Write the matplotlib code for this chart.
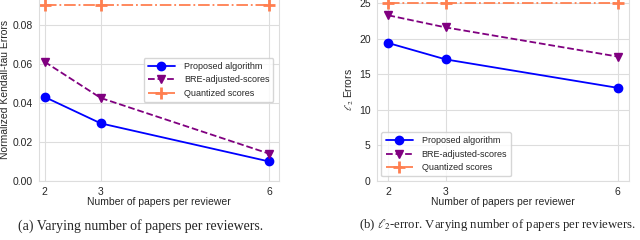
import matplotlib.pyplot as plt
import seaborn as sns

sns.set_style("whitegrid")
plt.rcParams['font.family'] = ['Liberation Sans', 'DejaVu Sans']
plt.rcParams['mathtext.fontset'] = 'stix'

papers = [2, 3, 6]
kt_proposed = [0.043, 0.0295, 0.010]
kt_bre = [0.061, 0.0425, 0.014]
kt_quant = [0.09, 0.09, 0.09]
l2_proposed = [19.4, 17.1, 13.1]
l2_bre = [23.3, 21.6, 17.5]
l2_quant = [25.0, 25.0, 25.0]

fig = plt.figure(figsize=(6.4, 2.4), dpi=100)
ax1 = fig.add_axes([0.061, 0.246, 0.375, 0.76])
ax2 = fig.add_axes([0.589, 0.246, 0.394, 0.76])

def draw(ax, prop, bre, quant, bre_label):
    ax.plot(papers, prop, color='blue', marker='o', markersize=6, lw=1.3,
            label='Proposed algorithm')
    ax.plot(papers, bre, color='purple', marker='v', markersize=6, lw=1.3,
            ls='--', label=bre_label)
    ax.plot(papers, quant, color='coral', marker='+', markersize=8, mew=2,
            lw=1.3, ls='-.', label='Quantized scores')
    ax.set_xticks(papers)
    ax.set_xlabel('Number of papers per reviewer', fontsize=7.5, labelpad=0)
    ax.tick_params(labelsize=7.5, pad=1)
    for s in ax.spines.values():
        s.set_color('#dddddd')
        s.set_linewidth(0.8)
    ax.grid(color='#dddddd', lw=0.8)

leg_kw = dict(fontsize=6.5, frameon=True, handlelength=3.0, labelspacing=0.5,
              borderpad=0.45, handletextpad=1.0)

draw(ax1, kt_proposed, kt_bre, kt_quant, 'BRE-adjusted-scores')
ax1.set_xlim(1.9, 6.18)
ax1.set_ylim(0, 0.0934)
ax1.set_yticks([0, 0.02, 0.04, 0.06, 0.08])
ax1.set_yticklabels(['0.00', '0.02', '0.04', '0.06', '0.08'])
ax1.set_ylabel('Normalized Kendall-tau Errors', fontsize=7.5, labelpad=2)
ax1.legend(loc='upper right', bbox_to_anchor=(0.995, 0.70), **leg_kw)

draw(ax2, l2_proposed, l2_bre, l2_quant, 'BRE-adjusted-scores')
ax2.set_xlim(1.8, 6.2)
ax2.set_ylim(0, 25.66)
ax2.set_yticks([0, 5, 10, 15, 20, 25])
ax2.set_ylabel(r'$\ell_2$ Errors', fontsize=7.5, labelpad=2)
ax2.legend(loc='lower left', bbox_to_anchor=(0.0, 0.0), **leg_kw)

fig.text(0.219, 0.03, '(a) Varying number of papers per reviewers.',
         ha='center', va='bottom', fontsize=10, family='Liberation Serif')
fig.text(0.777, 0.03, r'(b) $\ell_2$-error. Varying number of papers per reviewers.',
         ha='center', va='bottom', fontsize=9.2, family='Liberation Serif')

fig.savefig('out.png', dpi=100)
